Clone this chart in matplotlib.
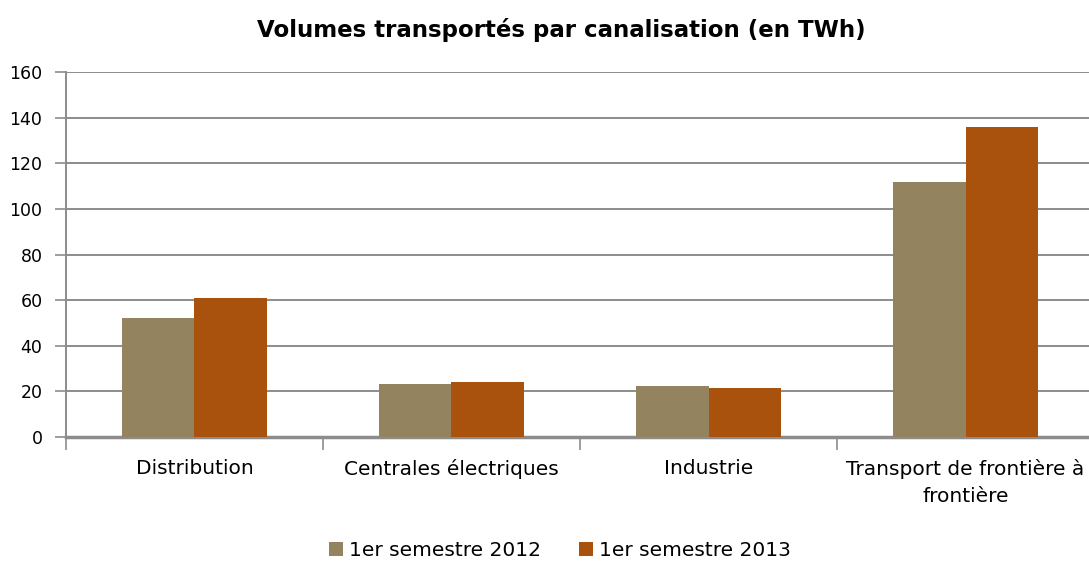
#!/usr/bin/env python3
"""Volumes transportés par canalisation - grouped bar chart."""

import matplotlib
matplotlib.use("Agg")
import matplotlib.pyplot as plt
import numpy as np

CATEGORIES = ["Distribution", "Centrales électriques", "Industrie",
              "Transport de frontière à\nfrontière"]
SERIES_NAMES = ["1er semestre 2012", "1er semestre 2013"]
VALUES_2012 = [52.3, 23.3, 22.5, 112.0]
VALUES_2013 = [61.0, 24.2, 21.6, 135.9]
Y_TICKS = [0, 20, 40, 60, 80, 100, 120, 140, 160]

COLOR_2012 = "#93835E"
COLOR_2013 = "#A8520E"
GRID_COLOR = "#8C8C8C"

plt.rcParams['font.family'] = ['DejaVu Sans']

fig = plt.figure(figsize=(10.89, 5.63), dpi=100)
ax = fig.add_axes([0.0606, 0.2238, 0.944, 0.6483])

x = np.arange(len(CATEGORIES))
bar_width = 0.284
ax.bar(x - bar_width / 2, VALUES_2012, width=bar_width, color=COLOR_2012,
       label=SERIES_NAMES[0], zorder=3)
ax.bar(x + bar_width / 2, VALUES_2013, width=bar_width, color=COLOR_2013,
       label=SERIES_NAMES[1], zorder=3)

ax.set_xlim(-0.5, len(CATEGORIES) - 0.5)
ax.set_ylim(0, 160)
ax.set_yticks(Y_TICKS)
ax.tick_params(axis='y', labelsize=12.5, length=8, width=1.2, color=GRID_COLOR,
               pad=9)

# category labels centered, tick marks on the boundaries
ax.set_xticks(x)
ax.set_xticklabels(CATEGORIES, fontsize=14.5, linespacing=1.5)
ax.tick_params(axis='x', which='major', length=0, pad=16)
ax.set_xticks(np.arange(len(CATEGORIES) + 1) - 0.5, minor=True)
ax.tick_params(axis='x', which='minor', length=9, width=1.2, color=GRID_COLOR)

ax.grid(axis='y', color=GRID_COLOR, linewidth=1.4, zorder=0)
for side in ['top', 'right']:
    ax.spines[side].set_visible(False)
ax.spines['left'].set_color(GRID_COLOR)
ax.spines['left'].set_linewidth(1.4)
ax.spines['bottom'].set_color(GRID_COLOR)
ax.spines['bottom'].set_linewidth(2.5)

fig.suptitle("Volumes transportés par canalisation (en TWh)", x=0.515, y=0.968,
             fontsize=16.5, fontweight='bold')

fig.legend(loc='center', bbox_to_anchor=(0.514, 0.022), ncol=2, frameon=False,
           fontsize=14.5, handlelength=0.7, handleheight=0.7, handletextpad=0.3,
           columnspacing=1.9)

plt.savefig("out.png", dpi=100)
